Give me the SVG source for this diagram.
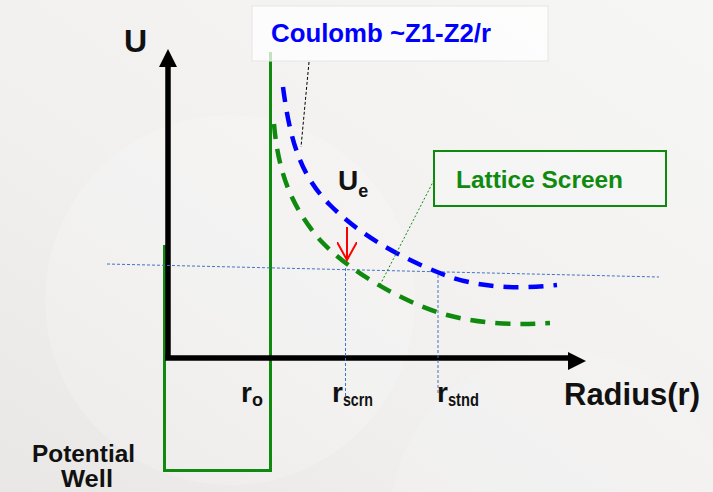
<svg xmlns="http://www.w3.org/2000/svg" width="713" height="492" viewBox="0 0 713 492">
  <defs>
    <linearGradient id="bg" x1="1" y1="0" x2="0" y2="1">
      <stop offset="0" stop-color="#f6f6f5"/>
      <stop offset="0.6" stop-color="#f1f0ef"/>
      <stop offset="1" stop-color="#e9e7e5"/>
    </linearGradient>
    <marker id="redHead" viewBox="0 0 20 20" refX="18" refY="10" markerWidth="20" markerHeight="20" markerUnits="userSpaceOnUse" orient="auto">
      <path d="M0,0 L18,10 L0,20" fill="none" stroke="#ff0000" stroke-width="2"/>
    </marker>
  </defs>
  <style>
    .lbl { font-family: "Liberation Sans", Arial, sans-serif; font-weight: bold; fill: #111; }
    .dotblue { stroke: #4472c4; stroke-width: 1; stroke-dasharray: 3 2; fill: none; }
    .axis { stroke: #000; stroke-width: 5.5; fill: none; }
    .curve { fill: none; stroke-dasharray: 15 10; }
  </style>

  <!-- background -->
  <rect x="0" y="0" width="713" height="492" fill="url(#bg)"/>
  <circle cx="230" cy="300" r="185" fill="#ffffff" opacity="0.18"/>
  <circle cx="560" cy="520" r="170" fill="#ffffff" opacity="0.12"/>

  <!-- potential well and wall -->
  <g id="well">
    <polyline points="164.5,245 164.5,470.5 270.5,470.5 270.5,52" fill="none" stroke="#0f8a0f" stroke-width="3"/>
  </g>

  <!-- axes -->
  <g id="axes">
    <line class="axis" x1="168" y1="358" x2="168" y2="66"/>
    <polygon points="168,49 159,67 177,67" fill="#000"/>
    <line class="axis" x1="165" y1="358" x2="570" y2="358" stroke-width="6"/>
    <polygon points="586,361 568,352 568,370" fill="#000"/>
  </g>

  <!-- reference dotted lines -->
  <g id="guides">
    <line class="dotblue" x1="107" y1="264" x2="659" y2="277"/>
    <line class="dotblue" x1="345.5" y1="268" x2="345.5" y2="398"/>
    <line class="dotblue" x1="438" y1="275" x2="438" y2="395"/>
  </g>

  <!-- curves -->
  <g id="coulomb-curve">
    <path class="curve" d="M283,87 C290,140 300,175 330,205 C365,240 410,262 450,277 C490,290 530,288 557,285" stroke="#0000ff" stroke-width="4.5"/>
  </g>
  <g id="screen-curve">
    <path class="curve" d="M274,124 C278,170 290,205 320,240 C350,272 400,300 440,313 C480,325 520,325 550,323" stroke="#0f8a0f" stroke-width="4.5"/>
  </g>

  <!-- callout boxes -->
  <g id="coulomb-box">
    <rect x="252" y="6" width="296" height="55" fill="#ffffff" fill-opacity="0.75" stroke="#e6e6e6" stroke-width="1"/>
    <text x="271" y="42" font-family="Liberation Sans, Arial, sans-serif" font-weight="bold" font-size="26" fill="#0000ff" textLength="220" lengthAdjust="spacingAndGlyphs">Coulomb ~Z1-Z2/r</text>
  </g>
  <g id="lattice-box">
    <rect x="434" y="151" width="232" height="55" fill="#f6f6f6" fill-opacity="0.6" stroke="#0f8a0f" stroke-width="2"/>
    <text x="456" y="188" font-family="Liberation Sans, Arial, sans-serif" font-weight="bold" font-size="24" fill="#0f8a0f" textLength="167" lengthAdjust="spacingAndGlyphs">Lattice Screen</text>
  </g>

  <!-- connectors -->
  <g id="connectors">
    <line x1="309" y1="62" x2="301" y2="147" stroke="#000" stroke-width="1" stroke-dasharray="3 2"/>
    <line x1="434" y1="180" x2="380" y2="285" stroke="#0f8a0f" stroke-width="1" stroke-dasharray="2 2"/>
    <line x1="347" y1="227" x2="347" y2="260" stroke="#ff0000" stroke-width="2" marker-end="url(#redHead)"/>
  </g>

  <!-- labels -->
  <g id="labels">
    <text class="lbl" x="124" y="52" font-size="32">U</text>
    <text class="lbl" x="564" y="405" font-size="32" textLength="136" lengthAdjust="spacingAndGlyphs">Radius(r)</text>
    <text class="lbl" x="338" y="190" font-size="28">U<tspan font-size="18" dy="7">e</tspan></text>
    <text class="lbl" x="241" y="402" font-size="28">r<tspan font-size="18" dy="4">o</tspan></text>
    <text class="lbl" x="332" y="402" font-size="28">r<tspan font-size="18" dy="4" textLength="30" lengthAdjust="spacingAndGlyphs">scrn</tspan></text>
    <text class="lbl" x="437" y="402" font-size="28">r<tspan font-size="18" dy="4" textLength="31" lengthAdjust="spacingAndGlyphs">stnd</tspan></text>
    <text class="lbl" x="32" y="462" font-size="24" textLength="103" lengthAdjust="spacingAndGlyphs">Potential</text>
    <text class="lbl" x="61" y="487" font-size="24" textLength="52" lengthAdjust="spacingAndGlyphs">Well</text>
  </g>
</svg>
